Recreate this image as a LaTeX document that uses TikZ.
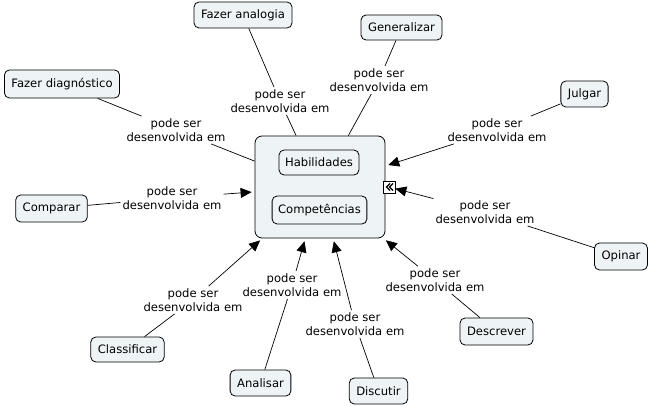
\documentclass[tikz,border=0pt]{standalone}
\usepackage{fontspec}
\setmainfont{DejaVu Sans}
\usetikzlibrary{arrows.meta}
\definecolor{nodefill}{RGB}{238,243,245}
\tikzset{
  concept/.style={draw=black, line width=0.8pt, fill=nodefill, rounded corners=5pt,
    inner xsep=7pt, minimum height=26pt, font=\fontsize{11.6}{14}\selectfont},
  link/.style={align=center, inner sep=2pt, font=\fontsize{11.6}{14.5}\selectfont},
  conn/.style={draw=black, line width=0.7pt},
  arr/.style={conn, -{Triangle[length=11pt,width=10pt]}, shorten >=3pt},
}
\begin{document}
\begin{tikzpicture}[x=1pt,y=-1pt]
\useasboundingbox (0,0) rectangle (651,406);
% main container
\node[concept, minimum width=130pt, minimum height=102pt, rounded corners=7pt, inner sep=0pt] (main) at (320,187) {};
\node[concept, minimum height=25pt, inner xsep=6pt] (hab) at (319,162.5) {Habilidades};
\node[concept, minimum height=28pt, inner xsep=6pt] (comp) at (319.5,210) {Competências};
\node[draw=black, fill=white, line width=0.7pt, inner sep=0pt, minimum size=12pt] (icon) at (389,187) {};
\draw[line width=1.1pt] ([xshift=1pt,yshift=3.5pt]icon.center) -- ([xshift=-2.5pt]icon.center) -- ([xshift=1pt,yshift=-3.5pt]icon.center);
\draw[line width=1.1pt] ([xshift=4pt,yshift=3.5pt]icon.center) -- ([xshift=0.5pt]icon.center) -- ([xshift=4pt,yshift=-3.5pt]icon.center);
% concepts
\node[concept] (analogia) at (243,15) {Fazer analogia};
\node[concept, minimum height=25pt] (general) at (401.5,27.5) {Generalizar};
\node[concept, minimum height=28pt] (diag) at (62,84) {Fazer diagnóstico};
\node[concept] (julgar) at (584.5,94) {Julgar};
\node[concept, minimum height=27pt] (comparar) at (51.5,208.5) {Comparar};
\node[concept, minimum height=27pt] (opinar) at (621,256.5) {Opinar};
\node[concept, minimum height=27pt] (descrever) at (496.5,331.5) {Descrever};
\node[concept, minimum height=25pt] (classif) at (127.5,349.5) {Classificar};
\node[concept] (analisar) at (260.5,383) {Analisar};
\node[concept] (discutir) at (378.5,391) {Discutir};
% linking phrases
\node[link] (l1) at (280,101) {pode ser\\desenvolvida em};
\node[link] (l2) at (379,80) {pode ser\\desenvolvida em};
\node[link] (l3) at (176,130) {pode ser\\desenvolvida em};
\node[link] (l4) at (172,198) {pode ser\\desenvolvida em};
\node[link] (l5) at (497,130) {pode ser\\desenvolvida em};
\node[link] (l6) at (485,212) {pode ser\\desenvolvida em};
\node[link] (l7) at (435,280) {pode ser\\desenvolvida em};
\node[link] (l8) at (193,300) {pode ser\\desenvolvida em};
\node[link] (l9) at (292,285) {pode ser\\desenvolvida em};
\node[link] (l10) at (355,324) {pode ser\\desenvolvida em};
% connectors
\draw[conn] (analogia) -- (l1);  \draw[conn] (l1) -- (main);
\draw[conn] (general) -- (l2);   \draw[conn] (l2) -- (main);
\draw[conn] (diag) -- (l3);      \draw[conn] (l3) -- (main);
\draw[conn] (comparar) -- (l4);  \draw[arr] (l4) -- (main);
\draw[conn] (julgar) -- (l5);    \draw[arr] (l5) -- (main);
\draw[conn] (opinar) -- (l6);    \draw[arr, shorten >=0pt] (l6) -- (icon);
\draw[conn] (descrever) -- (l7); \draw[arr] (l7) -- (main);
\draw[conn] (classif) -- (l8);   \draw[arr] (l8) -- (main);
\draw[conn] (analisar) -- (l9);  \draw[arr] (l9) -- (main);
\draw[conn] (discutir) -- (l10); \draw[arr] (l10) -- (main);
\end{tikzpicture}
\end{document}
